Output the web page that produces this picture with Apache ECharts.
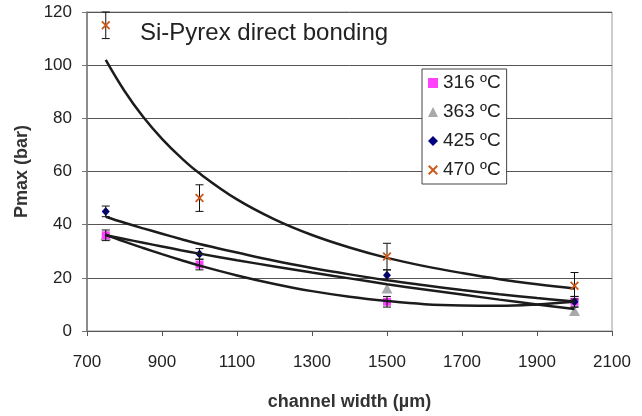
<!DOCTYPE html>
<html>
<head>
<meta charset="utf-8">
<script src="https://cdn.jsdelivr.net/npm/echarts@6/dist/echarts.min.js"></script>
<style>
  html, body { margin: 0; padding: 0; background: #fff; }
  #main { width: 642px; height: 416px; }
</style>
</head>
<body>
<div id="main"></div>
<script>
// measured points (channel width µm -> Pmax bar)
var widths = [750, 1000, 1500, 2000];
var p316 = [36, 25, 11, 11];
var p363 = [36, null, 16, 7.5];
var p425 = [45, 29, 21, 11];
var p470 = [115, 50, 28, 17];
// error bar half heights
var err316 = [2, 2, 2, 2];
var err425 = [2, 2, 2, 2];
var err470 = [5, 5, 5, 5];
// trend lines
var trendX   = [750, 800, 850, 900, 950, 1000, 1100, 1200, 1300, 1400, 1500, 1600, 1700, 1800, 1900, 2000];
var trend316 = [36.2, 33.6, 31.2, 28.9, 26.7, 24.6, 20.9, 17.7, 15.0, 12.9, 11.3, 10.1, 9.6, 9.5, 10.0, 11.0];
var trend363 = [36, 34.6, 33.2, 31.8, 30.4, 29.1, 26.6, 24.3, 22.0, 19.8, 17.6, 15.6, 13.7, 11.8, 10.0, 8.3];
var trend425 = [43, 40.7, 38.6, 36.6, 34.6, 32.7, 29.5, 26.4, 23.7, 21.3, 19.1, 17.2, 15.4, 13.8, 12.4, 11.1];
var trend470 = [102, 90.3, 80.5, 72.3, 65.3, 59.3, 49.5, 42.0, 36.1, 31.4, 27.5, 24.4, 21.8, 19.5, 17.6, 16.0];
var names = ['316 ºC', '363 ºC', '425 ºC', '470 ºC'];
var xTicks = [700, 2100, 200];
var yTicks = [0, 120, 20];

var crossPath = 'path://M0,1.4L1.4,0L5,3.6L8.6,0L10,1.4L6.4,5L10,8.6L8.6,10L5,6.4L1.4,10L0,8.6L3.6,5Z';

function pairs(xs, ys) {
	var out = [];
	for (var i = 0; i < xs.length; i++) {
		if (ys[i] != null) out.push([xs[i], ys[i]]);
	}
	return out;
}
function errData(ys, es) {
	var out = [];
	for (var i = 0; i < widths.length; i++) {
		out.push([widths[i], ys[i] - es[i], ys[i] + es[i]]);
	}
	return out;
}
function errSeries(ys, es) {
	return {
		type: 'custom',
		z: 3,
		silent: true,
		data: errData(ys, es),
		encode: { x: 0, y: [1, 2] },
		renderItem: function (params, api) {
			var lo = api.coord([api.value(0), api.value(1)]);
			var hi = api.coord([api.value(0), api.value(2)]);
			var w = 4;
			var st = { stroke: '#111', lineWidth: 1 };
			return {
				type: 'group',
				children: [
					{ type: 'line', shape: { x1: lo[0], y1: lo[1], x2: hi[0], y2: hi[1] }, style: st },
					{ type: 'line', shape: { x1: lo[0] - w, y1: lo[1], x2: lo[0] + w, y2: lo[1] }, style: st },
					{ type: 'line', shape: { x1: hi[0] - w, y1: hi[1], x2: hi[0] + w, y2: hi[1] }, style: st }
				]
			};
		}
	};
}
function trendSeries(ys) {
	return {
		type: 'line',
		z: 4,
		silent: true,
		smooth: 0.4,
		symbol: 'none',
		data: pairs(trendX, ys),
		lineStyle: { color: '#1c1c1c', width: 2.5 }
	};
}
function plain(v) { return String(v); }

var myChart = echarts.init(document.getElementById('main'));
var option = {
	animation: false,
	title: {
		text: 'Si-Pyrex direct bonding',
		left: 140,
		top: 21,
		padding: 0,
		textStyle: { fontFamily: 'Liberation Sans', fontSize: 24, fontWeight: 'normal', color: '#222' }
	},
	legend: {
		orient: 'vertical',
		left: 422,
		top: 69,
		padding: [3, 6, 3, 6],
		itemGap: 7,
		itemWidth: 10,
		itemHeight: 10,
		backgroundColor: '#fff',
		borderColor: '#444',
		borderWidth: 1,
		textStyle: { fontFamily: 'Liberation Sans', fontSize: 19, color: '#222', lineHeight: 22 },
		data: [
			{ name: names[0], icon: 'rect' },
			{ name: names[1], icon: 'triangle' },
			{ name: names[2], icon: 'diamond' },
			{ name: names[3], icon: crossPath }
		]
	},
	grid: { left: 87, right: 30, top: 12, bottom: 82, show: true, borderColor: '#999', borderWidth: 1 },
	xAxis: {
		type: 'value',
		min: xTicks[0], max: xTicks[1], interval: xTicks[2],
		name: 'channel width (µm)',
		nameLocation: 'middle',
		nameGap: 62,
		nameTextStyle: { fontFamily: 'Liberation Sans', fontSize: 18, fontWeight: 'bold', color: '#333' },
		axisLine: { lineStyle: { color: '#555', width: 1 } },
		axisTick: { show: true, inside: false, length: 5, lineStyle: { color: '#555' } },
		axisLabel: { margin: 23, fontFamily: 'Liberation Sans', fontSize: 17, color: '#222', formatter: plain },
		splitLine: { show: false }
	},
	yAxis: {
		type: 'value',
		min: yTicks[0], max: yTicks[1], interval: yTicks[2],
		name: 'Pmax (bar)',
		nameLocation: 'middle',
		nameGap: 56,
		nameTextStyle: { fontFamily: 'Liberation Sans', fontSize: 18, fontWeight: 'bold', color: '#333' },
		axisLine: { show: true, lineStyle: { color: '#777', width: 1.5 } },
		axisTick: { show: true, inside: false, length: 5, lineStyle: { color: '#777' } },
		axisLabel: { margin: 15, fontFamily: 'Liberation Sans', fontSize: 17, color: '#222', formatter: plain },
		splitLine: { show: true, lineStyle: { color: '#555', width: 1 } }
	},
	series: [
		{ name: names[0], type: 'scatter', z: 2, symbol: 'rect', symbolSize: 8, data: pairs(widths, p316), itemStyle: { color: '#FF40FF', opacity: 1 } },
		{ name: names[1], type: 'scatter', z: 1, symbol: 'triangle', symbolSize: [11, 10], data: pairs(widths, p363), itemStyle: { color: '#A6AAAD', opacity: 1 } },
		{ name: names[2], type: 'scatter', z: 2, symbol: 'diamond', symbolSize: [8, 9], data: pairs(widths, p425), itemStyle: { color: '#000080', opacity: 1 } },
		{ name: names[3], type: 'scatter', z: 5, symbol: crossPath, symbolSize: 9, data: pairs(widths, p470), itemStyle: { color: '#CC5A1A', opacity: 1 } },
		errSeries(p316, err316),
		errSeries(p425, err425),
		errSeries(p470, err470),
		trendSeries(trend316),
		trendSeries(trend363),
		trendSeries(trend425),
		trendSeries(trend470)
	]
};
myChart.setOption(option);
</script>
</body>
</html>
